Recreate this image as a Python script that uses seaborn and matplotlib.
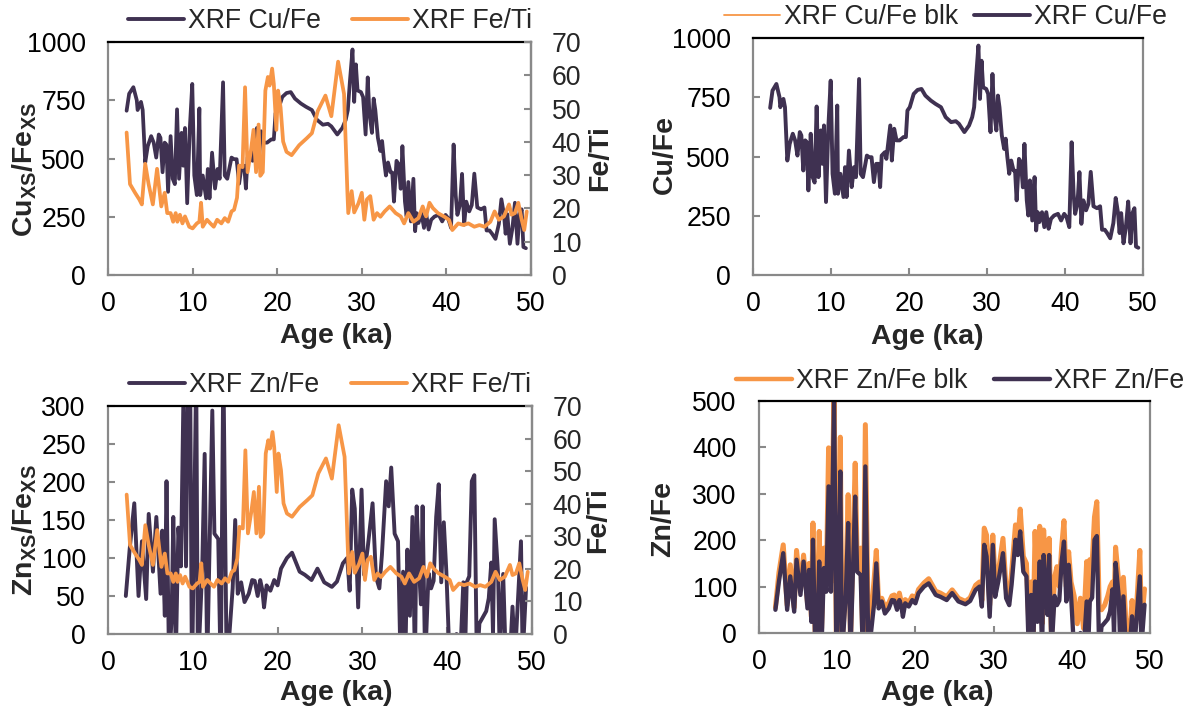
import matplotlib
matplotlib.use("Agg")
import matplotlib.pyplot as plt
import pandas as pd
import seaborn as sns
from matplotlib.lines import Line2D

# ---------------- data ----------------
age_cu = [2.2, 2.5, 3.0, 3.4, 3.5, 3.9, 4.1, 4.4, 4.7, 5.1, 5.4, 5.7, 6.0, 6.2, 6.45,
          6.7, 6.9, 7.1, 7.4, 7.65, 7.9, 8.16, 8.4, 8.7, 8.9, 9.1, 9.36, 9.66, 9.96,
          10.2, 10.5, 10.8, 10.9, 11.2, 11.6, 11.8, 12.0, 12.3, 12.65, 12.95, 13.2,
          13.6, 13.8, 14.1, 14.6, 14.9, 15.2, 15.5, 15.8, 16.1, 16.3, 16.5, 16.9,
          17.1, 17.6, 17.8, 18.1, 18.4, 18.8, 19.3, 19.6, 19.8, 20.1, 20.6, 21.1,
          21.6, 22.1, 22.8, 23.4, 24.1, 24.7, 25.4, 26.0, 26.4, 27.1, 27.7, 28.1,
          28.35, 28.6, 28.9, 29.1, 29.3, 29.5, 29.9, 30.15, 30.45, 30.7, 30.9, 31.2,
          31.4, 31.6, 31.9, 32.2, 32.4, 32.6, 32.85, 33.1, 33.4, 33.6, 33.8, 34.1,
          34.35, 34.6, 34.8, 35.1, 35.3, 35.5, 35.8, 36.1, 36.3, 36.5, 36.7, 37.05,
          37.35, 37.6, 37.9, 38.2, 38.6, 39.1, 39.5, 39.9, 40.2, 40.55, 40.85, 41.1,
          41.3, 41.6, 41.85, 42.1, 42.35, 42.7, 43.0, 43.3, 43.65, 44.1, 44.5, 44.75,
          45.1, 45.4, 45.8, 46.2, 46.5, 46.8, 47.0, 47.2, 47.5, 47.8, 48.1, 48.4,
          48.65, 48.9, 49.1, 49.4]
cu_fe = [705, 778, 806, 750, 708, 743, 708, 483, 553, 596, 568, 504, 603, 589, 441,
         568, 560, 357, 596, 413, 390, 711, 413, 610, 469, 631, 308, 624, 820,
         427, 343, 715, 343, 427, 329, 455, 329, 525, 371, 455, 413,
         827, 427, 413, 504, 497, 497, 392, 469, 469, 371, 504, 518,
         490, 631, 483, 617, 568, 568, 582, 582, 694, 708, 764, 781,
         785, 757, 736, 722, 708, 666, 645, 649, 638, 603, 631, 666,
         708, 834, 968, 743, 904, 792, 785, 764, 603, 848, 694, 610,
         757, 708, 589, 532, 575, 500, 427, 483, 441, 440, 315, 490,
         476, 370, 553, 315, 251, 399, 230, 413, 188, 265, 223, 265,
         202, 265, 195, 237, 251, 258, 230, 258, 244, 202, 560, 343,
         258, 301, 434, 216, 315, 273, 300, 435, 290, 282, 290, 191,
         191, 177, 155, 219, 325, 261, 177, 261, 134, 200, 310, 134,
         261, 282, 120, 115]
# bulk Cu/Fe coincides with the excess-based ratio
cu_fe_blk = cu_fe

age_feti = [2.2, 2.6, 3.2, 3.7, 4.0, 4.4, 4.8, 5.3, 5.8, 6.3, 6.7, 7.0, 7.4, 7.7, 8.0,
            8.2, 8.5, 8.8, 9.1, 9.6, 10.0, 10.5, 10.8, 11.0, 11.2, 11.7, 12.1, 12.5,
            12.9, 13.4, 13.8, 14.2, 14.6, 14.9, 15.25, 15.5, 15.9, 16.2, 16.5, 16.9,
            17.2, 17.5, 17.8, 18.0, 18.3, 18.6, 18.9, 19.1, 19.4, 19.6, 19.9, 20.1,
            20.4, 20.7, 21.1, 21.7, 22.6, 23.5, 24.1, 24.8, 25.7, 26.4, 27.2, 27.9,
            28.3, 28.4, 28.8, 29.1, 29.6, 30.0, 30.3, 30.6, 31.0, 31.4, 31.8, 32.2,
            32.7, 33.3, 34.0, 34.6, 35.0, 35.5, 36.1, 36.7, 37.2, 37.6, 38.0, 38.4,
            39.0, 39.7, 40.3, 40.7, 41.4, 42.0, 42.6, 43.3, 43.9, 44.5, 45.2, 45.7,
            46.2, 46.8, 47.4, 47.7, 48.1, 48.5, 48.9, 49.2, 49.5]
fe_ti = [42.8, 27.3, 24.7, 22.7, 21.2, 33.4, 27.3, 21.2, 31.9, 20.6, 24.7, 18.6, 18.6, 16.0, 18.6,
         16.0, 18.1, 15.5, 17.6, 14.5, 14.0, 15.5, 16.0, 21.7, 14.5, 16.6, 15.5, 14.5,
         16.6, 15.5, 17.1, 16.0, 19.1, 19.6, 23.2, 32.9, 32.4, 56.4, 30.9, 37.5,
         43.6, 30.9, 45.2, 29.8, 30.9, 55.4, 59.5, 56.9, 62.0, 57.4, 43.6, 55.4,
         50.3, 40.1, 37.0, 36.0, 39.0, 41.1, 42.6, 49.3, 53.9, 47.7, 64.1, 54.4,
         24.7, 18.6, 25.2, 18.8, 21.5, 24.7, 16.6, 22.7, 23.7, 16.6, 18.6, 17.5,
         19.1, 20.6, 18.6, 17.6, 15.5, 18.6, 16.0, 17.1, 20.6, 17.6, 21.7, 20.1,
         18.6, 17.6, 16.6, 13.5, 15.5, 15.0, 15.5, 14.5, 15.0, 14.5, 16.0, 19.1,
         16.6, 17.6, 21.2, 18.1, 18.6, 21.7, 16.6, 13.5, 19.1]

age_zn = [2.1, 2.55, 3.1, 3.6, 4.0, 4.5, 4.8, 5.3, 5.7, 6.2, 6.4, 6.7, 6.9, 7.2, 7.5,
          7.7, 8.0, 8.3, 8.6, 8.9, 9.2, 9.6, 9.9, 10.1, 10.4, 10.6, 11.1, 11.4, 11.7,
          12.3, 12.55, 13.0, 13.3, 13.6, 14.0, 14.7, 15.0, 15.3, 15.7, 16.1, 16.6,
          17.0, 17.3, 17.65, 17.95, 18.2, 18.4, 18.7, 19.15, 19.6, 20.0, 20.4, 21.1,
          21.7, 22.6, 23.2, 24.0, 24.7, 25.5, 26.4, 27.0, 27.7, 28.2, 28.5, 28.8,
          29.1, 29.5, 29.9, 30.2, 30.6, 31.2, 31.6, 32.0, 32.3, 32.8, 33.1, 33.4,
          33.8, 34.2, 34.5, 34.8, 35.05, 35.3, 35.6, 35.9, 36.2, 36.4, 36.7, 36.9,
          37.1, 37.4, 37.8, 38.1, 38.4, 38.7, 39.0, 39.3, 39.6, 39.9, 40.3, 40.7,
          41.1, 41.5, 41.9, 42.1, 42.3, 42.6, 42.9, 43.2, 43.5, 43.8, 44.2, 44.6,
          44.9, 45.2, 45.4, 45.6, 46.0, 46.2, 46.6, 46.9, 47.2, 47.4, 47.7, 48.0,
          48.3, 48.7, 48.9, 49.3]
zn_fe = [50, 111, 172, 50, 122, 46, 158, 82, 154, 53, 136, 24, 201, -40, 20,
         154, -30, 140, 89, 316, 89, 510, -60, 93, 348, -50, 82, 237, -40,
         294, 132, 125, -60, 359, -50, 60, 150, 53, 68, 42, 53,
         71, 70, 50, 71, 58, 35, 64, 57, 71, 64, 86, 100,
         107, 82, 78, 71, 86, 68, 62, 69, 93, 100, 57, 190,
         165, 35, 190, 78, 111, 172, 75, 60, 104, 201, 168, 219,
         132, 122, -40, 82, -40, 111, 24, 154, -40, 168, 82, 39,
         168, -40, 80, 60, 70, 154, 197, 68, 147, 82, -40, -40,
         0, -40, 68, -30, 68, 76, 201, 209, -40, 14, 22, 30,
         47, 94, 0, 151, 79, -30, 79, -30, -30, -30, 36, -30,
         36, 122, -30, 61]
zn_fe_blk = [55, 130, 190, 60, 147, 55, 178, 95, 168, 65, 150, 35, 237, -20, 80,
             219, 10, 183, 105, 399, 110, 530, -40, 110, 422, -30, 100, 298, -20,
             366, 160, 183, -40, 449, -30, 111, 178, 62, 75, 55, 65,
             80, 82, 62, 86, 66, 48, 72, 65, 80, 72, 94, 108,
             117, 90, 86, 78, 93, 75, 68, 76, 103, 110, 70, 226,
             211, 60, 211, 110, 130, 204, 95, 80, 130, 233, 195, 267,
             165, 150, 20, 110, -10, 219, 60, 230, 20, 222, 110, 70,
             204, -10, 120, 143, 100, 185, 242, 100, 175, 110, 80, 20,
             75, 10, 154, 40, 158, 150, 250, 283, 60, 50, 60, 80,
             100, 110, 60, 185, 110, 40, 120, 30, 20, -10, 70, 20,
             60, 178, 20, 95]

x_ticks = [0, 10, 20, 30, 40, 50]
cu_ticks = [0, 250, 500, 750, 1000]
zn_ticks_xs = [0, 50, 100, 150, 200, 250, 300]
zn_ticks = [0, 100, 200, 300, 400, 500]
feti_ticks = [0, 10, 20, 30, 40, 50, 60, 70]

# ---------------- style ----------------
DARK = "#3F3151"
ORANGE = "#F79646"
GREY = "#898989"
FS = 19.2
FS_LAB = 20.5

sns.set_theme(style="white")
plt.rcParams["font.family"] = ["Liberation Sans", "DejaVu Sans"]
plt.rcParams["mathtext.fontset"] = "custom"
plt.rcParams["mathtext.rm"] = "Liberation Sans"
plt.rcParams["mathtext.bf"] = "Liberation Sans:bold"

W, H = 1185, 709
fig = plt.figure(figsize=(W / 100, H / 100), dpi=100)
fig.patch.set_facecolor("white")


def rect(l, r, t, b):
    return [l / W, 1 - b / H, (r - l) / W, (b - t) / H]


def style_axes(ax):
    for s in ["left", "right", "bottom"]:
        ax.spines[s].set_color(GREY)
        ax.spines[s].set_linewidth(1.6)
    ax.spines["top"].set_color("black")
    ax.spines["top"].set_linewidth(1.6)
    ax.tick_params(axis="both", direction="in", length=5, width=1.5, color=GREY,
                   labelsize=FS, labelcolor="black")
    ax.tick_params(axis="y", pad=16, left=True, right=False)
    ax.tick_params(axis="x", pad=11.5, bottom=True, top=False)
    ax.set_xlim(0, 50)
    ax.set_xticks(x_ticks)
    ax.set_xlabel("")
    ax.set_ylabel("")
    ax.set_facecolor("white")


def style_twin(axr):
    for s in ["left", "bottom", "top"]:
        axr.spines[s].set_visible(False)
    axr.spines["right"].set_color(GREY)
    axr.spines["right"].set_linewidth(1.6)
    axr.tick_params(axis="y", direction="in", length=5, width=1.5, color=GREY,
                    labelsize=FS, pad=15, left=False, right=True)
    axr.set_ylim(0, 70)
    axr.set_yticks(feti_ticks)
    axr.set_ylabel("")


def line(ax, x, y, color, lw):
    df = pd.DataFrame({"age": x, "val": y})
    sns.lineplot(data=df, x="age", y="val", ax=ax, color=color, linewidth=lw,
                 estimator=None, sort=False, legend=False)


def label(x, y, text, rot=0):
    fig.text(x / W, 1 - y / H, text, rotation=rot, ha="center", va="center",
             fontsize=FS_LAB, fontweight="bold")


def legend(handles, labels, cx, cy, colsp):
    fig.legend(handles, labels, loc="center", bbox_to_anchor=(cx / W, 1 - cy / H),
               ncol=2, frameon=False, fontsize=FS, handlelength=2.1,
               handletextpad=0.15, columnspacing=colsp, borderpad=0,
               borderaxespad=0)


# ---- panel 1: Cu/Fe (xs) with Fe/Ti ----
ax1 = fig.add_axes(rect(108, 531, 42, 275))
line(ax1, age_cu, cu_fe, DARK, 2.7)
style_axes(ax1)
ax1.set_ylim(0, 1000)
ax1.set_yticks(cu_ticks)
ax1r = ax1.twinx()
line(ax1r, age_feti, fe_ti, ORANGE, 2.7)
style_twin(ax1r)
label(25, 170, r"$\mathbf{Cu_{XS}/Fe_{XS}}$", 90)
label(600, 158, "Fe/Ti", 90)
label(336, 336, "Age (ka)")
legend([Line2D([], [], color=DARK, lw=2.8), Line2D([], [], color=ORANGE, lw=2.8)],
       ["XRF Cu/Fe", "XRF Fe/Ti"], 330, 21, 1.2)

# ---- panel 2: Cu/Fe bulk vs Cu/Fe ----
ax2 = fig.add_axes(rect(753, 1143, 38, 275))
line(ax2, age_cu, cu_fe_blk, ORANGE, 1.2)
line(ax2, age_cu, cu_fe, DARK, 2.8)
style_axes(ax2)
ax2.set_ylim(0, 1000)
ax2.set_yticks(cu_ticks)
ax2.tick_params(axis="y", right=False)
label(665, 154, "Cu/Fe", 90)
label(927, 337, "Age (ka)")
legend([Line2D([], [], color=ORANGE, lw=1.3), Line2D([], [], color=DARK, lw=2.8)],
       ["XRF Cu/Fe blk", "XRF Cu/Fe"], 945, 17, 0.6)

# ---- panel 3: Zn/Fe (xs) with Fe/Ti ----
ax3 = fig.add_axes(rect(108, 532, 406, 634))
line(ax3, age_zn, zn_fe, DARK, 2.8)
style_axes(ax3)
ax3.set_ylim(0, 300)
ax3.set_yticks(zn_ticks_xs)
ax3r = ax3.twinx()
line(ax3r, age_feti, fe_ti, ORANGE, 2.7)
style_twin(ax3r)
label(25, 530, r"$\mathbf{Zn_{XS}/Fe_{XS}}$", 90)
label(598, 520, "Fe/Ti", 90)
label(336, 693, "Age (ka)")
legend([Line2D([], [], color=DARK, lw=2.8), Line2D([], [], color=ORANGE, lw=2.8)],
       ["XRF Zn/Fe", "XRF Fe/Ti"], 330, 385, 1.2)

# ---- panel 4: Zn/Fe bulk vs Zn/Fe ----
ax4 = fig.add_axes(rect(759, 1150, 401, 633))
line(ax4, age_zn, zn_fe_blk, ORANGE, 3.6)
line(ax4, age_zn, zn_fe, DARK, 3.1)
style_axes(ax4)
ax4.set_ylim(0, 500)
ax4.set_yticks(zn_ticks)
label(663, 519, "Zn/Fe", 90)
label(937, 693, "Age (ka)")
legend([Line2D([], [], color=ORANGE, lw=3.2), Line2D([], [], color=DARK, lw=3.2)],
       ["XRF Zn/Fe blk", "XRF Zn/Fe"], 960, 381, 1.0)

fig.savefig("out.png", dpi=100, facecolor="white")
